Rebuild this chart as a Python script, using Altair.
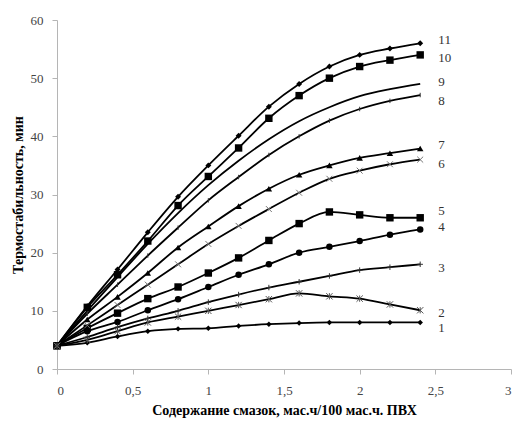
import altair as alt
import pandas as pd

x_vals = [0, 0.2, 0.4, 0.6, 0.8, 1.0, 1.2, 1.4, 1.6, 1.8, 2.0, 2.2, 2.4]
s1 = [4, 4.5, 5.6, 6.5, 6.9, 7.0, 7.4, 7.7, 7.9, 8.0, 8.0, 8.0, 8.0]
s2 = [4, 5.0, 6.5, 8.0, 9.0, 10.0, 11.0, 12.0, 13.0, 12.5, 12.1, 11.1, 10.1]
s3 = [4, 5.5, 7.2, 8.7, 10.0, 11.5, 12.8, 14.0, 15.0, 16.0, 17.0, 17.5, 18.0]
s4 = [4, 6.5, 8.1, 10.1, 12.0, 14.1, 16.2, 18.0, 20.0, 21.0, 22.0, 23.1, 24.0]
s5 = [4, 7.0, 9.6, 12.1, 14.1, 16.5, 19.1, 22.1, 25.0, 27.0, 26.5, 26.0, 26.0]
s6 = [4, 7.5, 11.0, 14.5, 18.0, 21.5, 24.6, 27.5, 30.3, 32.7, 34.1, 35.2, 36.0]
s7 = [4, 8.5, 12.4, 16.5, 20.9, 24.5, 28.0, 31.0, 33.4, 35.0, 36.3, 37.1, 37.9]
s8 = [4, 9.5, 14.5, 19.5, 24.3, 29.0, 33.0, 36.8, 40.0, 42.7, 44.7, 46.1, 47.1]
s9 = [4, 10.0, 15.8, 21.5, 26.8, 31.6, 35.8, 39.5, 42.6, 45.0, 46.9, 48.1, 49.0]
s10 = [4, 10.6, 16.2, 22.0, 28.1, 33.1, 38.0, 43.1, 47.0, 50.0, 52.0, 53.1, 54.0]
s11 = [4, 10.8, 17.1, 23.5, 29.6, 35.0, 40.1, 45.1, 49.0, 52.0, 54.0, 55.1, 56.0]

series_names = ["1", "2", "3", "4", "5", "6", "7", "8", "9", "10", "11"]
series_values = [s1, s2, s3, s4, s5, s6, s7, s8, s9, s10, s11]
label_y = [7.0, 9.6, 17.4, 24.4, 27.2, 35.3, 38.5, 46.0, 49.3, 53.4, 56.6]
label_x = [2.52] * 11

x_ticks = [0, 0.5, 1, 1.5, 2, 2.5, 3]
y_ticks = [0, 10, 20, 30, 40, 50, 60]
x_title = "Содержание смазок, мас.ч/100 мас.ч. ПВХ"
y_title = "Термостабильность, мин"

rows = []
for name, vals in zip(series_names, series_values):
    for xv, yv in zip(x_vals, vals):
        rows.append({"series": name, "x": xv, "y": yv})
df = pd.DataFrame(rows)
labels_df = pd.DataFrame({"series": series_names, "x": label_x, "y": label_y})

FONT = "Liberation Serif"

xenc = alt.X("x:Q", scale=alt.Scale(domain=[0, 3], nice=False),
             axis=alt.Axis(values=x_ticks, title=x_title,
                           labelExpr="replace(toString(datum.value), '.', ',')",
                           labelPadding=10, titlePadding=6))
yenc = alt.Y("y:Q", scale=alt.Scale(domain=[0, 60], nice=False),
             axis=alt.Axis(values=y_ticks, title=y_title, labelPadding=9, titlePadding=5))

base = alt.Chart(df)

lines = base.mark_line(interpolate="monotone", color="black", strokeWidth=1.8).encode(
    x=xenc, y=yenc, detail="series:N")

X_PATH = "M-1,-1L1,1M-1,1L1,-1"
AST_PATH = "M-1,-1L1,1M-1,1L1,-1M0,-1L0,1"
PLUS_PATH = "M0,-1L0,1M-1,0L1,0"
TICK_PATH = "M0,-1L0,1"

filled_specs = {
    "1": ("diamond", 30),
    "4": ("circle", 42),
    "5": ("square", 55),
    "7": ("triangle-up", 42),
    "10": ("square", 55),
    "11": ("diamond", 35),
}
stroked_specs = {
    "2": (AST_PATH, 40, "#555555"),
    "3": (PLUS_PATH, 30, "#333333"),
    "6": (X_PATH, 35, "#777777"),
    "8": (TICK_PATH, 20, "#333333"),
}

layers = [lines]
for s, (shape, size) in filled_specs.items():
    layers.append(
        base.transform_filter(alt.datum.series == s).mark_point(
            shape=shape, size=size, filled=True, color="black", opacity=1
        ).encode(x="x:Q", y="y:Q")
    )
for s, (shape, size, col) in stroked_specs.items():
    layers.append(
        base.transform_filter(alt.datum.series == s).mark_point(
            shape=shape, size=size, filled=False, color=col, strokeWidth=1, opacity=1
        ).encode(x="x:Q", y="y:Q")
    )

labels = alt.Chart(labels_df).mark_text(
    align="left", baseline="middle", font=FONT, fontSize=13, color="#333333"
).encode(x="x:Q", y="y:Q", text="series:N")
layers.append(labels)

chart = alt.layer(*layers).properties(
    width=454, height=349,
    autosize=alt.AutoSizeParams(type="none"),
    padding={"left": 49, "top": 12, "right": 4, "bottom": 50},
).configure_view(stroke=None).configure_axis(
    grid=False,
    domainColor="#b5b5b5",
    tickColor="#b5b5b5",
    tickSize=5,
    labelFont=FONT,
    labelFontSize=13,
    labelColor="#444444",
    titleFont=FONT,
    titleFontSize=14,
    titleFontWeight="bold",
    titleColor="black",
)

chart.save("out.html", embed_options={"renderer": "svg", "actions": False})
